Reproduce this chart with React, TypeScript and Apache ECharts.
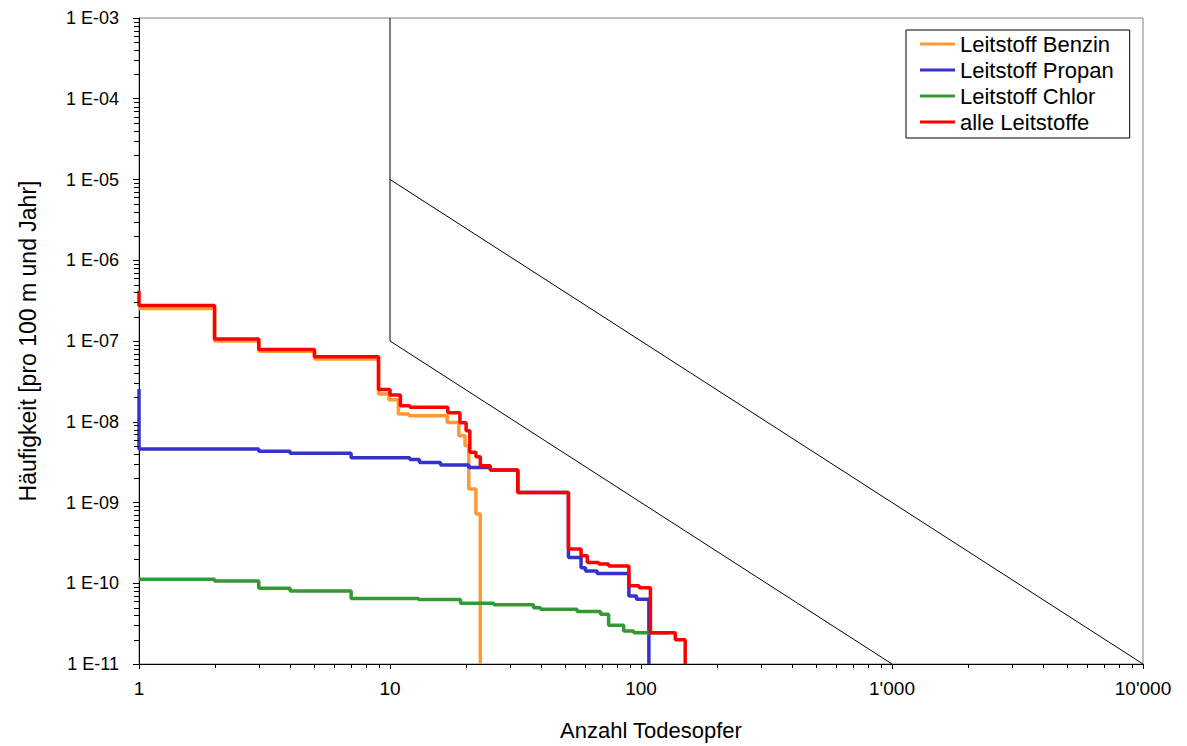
import React, { useEffect, useRef } from "react";
import * as echarts from "echarts";

// ---- Data (step curves: value holds from x until the next x) ----
const benzinX = [1, 2, 3, 5, 9, 9.9, 10.8, 11.9, 16.9, 18.8, 19.9, 20.6, 22.0, 22.9];
const benzinY = [2.53e-7, 1.0e-7, 7.47e-8, 6.0e-8, 2.21e-8, 1.87e-8, 1.25e-8, 1.19e-8, 9.8e-9, 6.7e-9, 5.06e-9, 1.47e-9, 7.2e-10, 1e-11];

const propanX = [1, 1, 3, 4, 7, 12, 13.1, 15.9, 20.6, 25.1, 32.3, 51.4, 57.7, 60.1, 66.9, 89.5, 96, 107.5];
const propanY = [2.55e-8, 4.6e-9, 4.3e-9, 4.07e-9, 3.59e-9, 3.4e-9, 3.12e-9, 2.92e-9, 2.72e-9, 2.52e-9, 1.33e-9, 2.08e-10, 1.56e-10, 1.42e-10, 1.32e-10, 6.97e-11, 6.34e-11, 1e-11];

const chlorX = [1, 2, 3, 4, 7, 13, 19.1, 25.9, 37.3, 39.8, 55.6, 69, 74.3, 85.3, 93.6, 130];
const chlorY = [1.12e-10, 1.07e-10, 8.7e-11, 8.04e-11, 6.46e-11, 6.3e-11, 5.66e-11, 5.4e-11, 4.99e-11, 4.77e-11, 4.46e-11, 4.13e-11, 3.02e-11, 2.56e-11, 2.44e-11, 2.44e-11];

const alleX = [1, 1, 2, 3, 5, 9, 10, 11, 12, 17, 19, 20.1, 20.8, 22, 22.9, 25.1, 32.3, 51.4, 57.7, 61.1, 67.9, 74.3, 89.5, 98.3, 109, 137, 150];
const alleY = [4.2e-7, 2.75e-7, 1.06e-7, 7.85e-8, 6.4e-8, 2.5e-8, 2.15e-8, 1.58e-8, 1.51e-8, 1.29e-8, 9.7e-9, 7.76e-9, 4.18e-9, 3.69e-9, 2.86e-9, 2.52e-9, 1.33e-9, 2.65e-10, 2.19e-10, 1.81e-10, 1.73e-10, 1.64e-10, 9.3e-11, 8.8e-11, 2.44e-11, 1.99e-11, 1e-11];

// Criteria (acceptability) lines
const limitAX = [10, 10, 1000];
const limitAY = [1e-3, 1e-7, 1e-11];
const limitBX = [10, 10000];
const limitBY = [1e-5, 1e-11];

const seriesNames = ["Leitstoff Benzin", "Leitstoff Propan", "Leitstoff Chlor", "alle Leitstoffe"];
const seriesColors = ["#FF9933", "#3333CC", "#339933", "#FF0000"];

const xTickLabels: Record<number, string> = { 1: "1", 10: "10", 100: "100", 1000: "1'000", 10000: "10'000" };
const yTickLabels: Record<number, string> = {
  [-11]: "1 E-11", [-10]: "1 E-10", [-9]: "1 E-09", [-8]: "1 E-08",
  [-7]: "1 E-07", [-6]: "1 E-06", [-5]: "1 E-05", [-4]: "1 E-04", [-3]: "1 E-03",
};

const minorMultipliers = [2, 3, 4, 5, 6, 7, 8, 9];
const xDecades = [1, 10, 100, 1000];
const yDecades = [1e-11, 1e-10, 1e-9, 1e-8, 1e-7, 1e-6, 1e-5, 1e-4];

const X_MIN = 1, X_MAX = 10000, Y_MIN = 1e-11, Y_MAX = 1e-3;

const FONT = "'Liberation Sans', Arial, sans-serif";

function pairs(xs: number[], ys: number[]) {
  return xs.map((x, i) => [x, ys[i]]);
}

export default function App() {
  const ref = useRef<HTMLDivElement>(null);

  useEffect(() => {
    if (!ref.current) return;
    const chart = echarts.init(ref.current, undefined, { renderer: "svg" });

    const xMinor: number[][] = [];
    xDecades.forEach((d) => minorMultipliers.forEach((m) => xMinor.push([d * m, Y_MIN])));
    const yMinor: number[][] = [];
    yDecades.forEach((d) => minorMultipliers.forEach((m) => yMinor.push([X_MIN, d * m])));

    const stepSeries = [
      pairs(benzinX, benzinY),
      pairs(propanX, propanY),
      pairs(chlorX, chlorY),
      pairs(alleX, alleY),
    ].map((data, i) => ({
      name: seriesNames[i],
      type: "line",
      step: "end",
      data,
      symbol: "none",
      showSymbol: false,
      lineStyle: { color: seriesColors[i], width: 3.5 },
      itemStyle: { color: seriesColors[i] },
      z: 3 + i,
    }));

    const option: any = {
      animation: false,
      textStyle: { fontFamily: FONT },
      grid: {
        left: 139,
        right: 44,
        top: 18,
        bottom: 82,
        show: true,
        borderColor: "#808080",
        borderWidth: 1,
        backgroundColor: "transparent",
      },
      legend: {
        data: seriesNames,
        orient: "vertical",
        left: 906,
        top: 30,
        padding: [3, 16, 5, 14],
        itemGap: 4,
        itemWidth: 35,
        itemHeight: 3,
        icon: "rect",
        backgroundColor: "#fff",
        borderColor: "#000",
        borderWidth: 1,
        borderRadius: 0,
        textStyle: { fontSize: 22, color: "#000", fontFamily: FONT, lineHeight: 20 },
      },
      xAxis: {
        type: "log",
        logBase: 10,
        min: X_MIN,
        max: X_MAX,
        splitNumber: 4,
        name: "Anzahl Todesopfer",
        nameLocation: "middle",
        nameGap: 55,
        nameTextStyle: { fontSize: 22, color: "#000", fontFamily: FONT, padding: [0, 0, 0, 20] },
        axisLine: { show: true, lineStyle: { color: "#000", width: 1 } },
        axisTick: { show: true, length: 5, lineStyle: { color: "#000" } },
        splitLine: { show: false },
        minorTick: { show: false },
        axisLabel: {
          margin: 15,
          fontSize: 19,
          color: "#000",
          fontFamily: FONT,
          formatter: (v: number) => xTickLabels[Math.round(v)] ?? "",
        },
      },
      yAxis: {
        type: "log",
        logBase: 10,
        min: Y_MIN,
        max: Y_MAX,
        splitNumber: 8,
        name: "Häufigkeit [pro 100 m und Jahr]",
        nameLocation: "middle",
        nameGap: 100,
        nameTextStyle: { fontSize: 23, color: "#000", fontFamily: FONT },
        axisLine: { show: true, lineStyle: { color: "#000", width: 1 } },
        axisTick: { show: true, length: 6, lineStyle: { color: "#000" } },
        splitLine: { show: false },
        minorTick: { show: false },
        axisLabel: {
          margin: 20,
          fontSize: 18,
          color: "#000",
          fontFamily: FONT,
          formatter: (v: number) => yTickLabels[Math.round(Math.log10(v))] ?? "",
        },
      },
      series: [
        {
          name: "limitA",
          type: "line",
          data: pairs(limitAX, limitAY),
          symbol: "none",
          lineStyle: { color: "#000", width: 1 },
          z: 2,
          silent: true,
        },
        {
          name: "limitB",
          type: "line",
          data: pairs(limitBX, limitBY),
          symbol: "none",
          lineStyle: { color: "#000", width: 1 },
          z: 2,
          silent: true,
        },
        ...stepSeries,
        {
          name: "xMinorTicks",
          type: "custom",
          silent: true,
          clip: false,
          data: xMinor,
          renderItem: (_p: any, api: any) => {
            const pt = api.coord([api.value(0), api.value(1)]);
            const x = Math.round(pt[0]) + 0.5;
            return {
              type: "line",
              shape: { x1: x, y1: pt[1], x2: x, y2: pt[1] + 4 },
              style: { stroke: "#000", lineWidth: 1 },
            };
          },
          z: 10,
        },
        {
          name: "yMinorTicks",
          type: "custom",
          silent: true,
          clip: false,
          data: yMinor,
          renderItem: (_p: any, api: any) => {
            const pt = api.coord([api.value(0), api.value(1)]);
            const y = Math.round(pt[1]) + 0.5;
            return {
              type: "line",
              shape: { x1: pt[0] - 5, y1: y, x2: pt[0], y2: y },
              style: { stroke: "#000", lineWidth: 1 },
            };
          },
          z: 10,
        },
      ],
    };

    chart.setOption(option);
    return () => chart.dispose();
  }, []);

  return (
    <div
      ref={ref}
      style={{ position: "fixed", left: 0, top: 0, width: 1187, height: 746, background: "#fff" }}
    />
  );
}
